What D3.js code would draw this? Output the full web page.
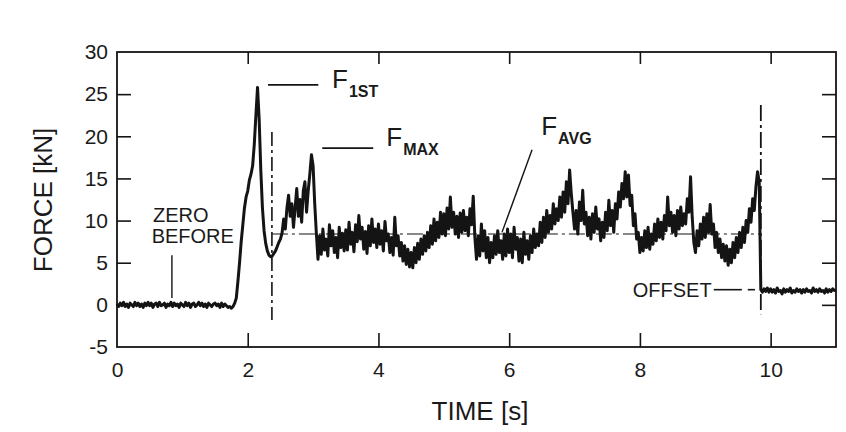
<!DOCTYPE html>
<html>
<head>
<meta charset="utf-8">
<script src="https://cdn.jsdelivr.net/npm/d3@7"></script>
<style>
  html, body { margin: 0; padding: 0; background: #ffffff; }
  svg { display: block; }
  text { font-family: "Liberation Sans", Arial, Helvetica, sans-serif; fill: #1a1a1a; }
</style>
</head>
<body>
<svg id="chart" width="846" height="432"></svg>
<script>
// ---- data ----
const sampleStart = 0;       // s
const sampleStep = 0.025;    // s
// force [kN] sampled every 0.025 s from t = 0 s
const force = [
  0.1,-0.2,0.2,-0.1,0.3,-0.2,0.1,-0.3,0.2,0.0,-0.2,0.3,-0.1,0.2,-0.2,0.1,-0.3,0.2,-0.1,0.3,
  -0.1,0.2,-0.3,0.1,0.2,-0.2,0.3,-0.1,0.0,0.2,-0.3,0.1,-0.1,0.3,-0.2,0.2,-0.1,0.1,-0.3,0.2,
  0.0,-0.2,0.3,-0.1,0.2,-0.3,0.1,0.2,-0.2,0.0,0.3,-0.1,0.2,-0.2,0.1,-0.3,0.2,0.0,-0.2,0.1,
  0.2,-0.1,0.1,-0.3,0.2,-0.2,0.1,-0.1,-0.3,-0.2,-0.4,-0.2,0.2,0.8,2.8,5.0,7.5,9.5,11.5,12.8,
  13.5,14.8,15.5,16.5,19.0,22.5,25.8,22.0,16.0,11.5,8.8,7.3,6.4,5.9,5.7,5.8,6.1,6.4,6.9,7.4,
  7.8,8.5,10.2,9.0,11.5,13.0,10.5,12.0,9.2,11.5,13.8,10.5,12.5,9.8,13.5,14.6,11.0,13.5,15.5,17.8,
  16.5,12.0,8.5,5.4,8.2,6.0,9.0,6.5,7.8,5.8,9.5,7.0,8.8,6.2,8.0,5.6,9.2,6.8,8.5,6.4,
  8.9,6.5,9.8,7.2,8.6,6.3,9.5,7.5,10.6,7.8,9.2,6.6,8.7,6.1,9.4,7.0,10.2,7.4,9.0,6.8,
  9.6,7.2,8.8,6.4,9.9,7.6,8.4,6.2,8.0,5.9,10.4,7.0,8.2,5.8,7.4,5.2,7.0,4.8,6.6,4.5,
  6.2,4.4,6.8,5.0,7.3,5.4,7.8,6.0,8.2,6.4,8.6,6.8,9.4,7.2,10.2,7.6,9.8,8.0,11.0,8.4,
  10.8,8.2,11.5,9.0,12.8,9.2,11.0,8.4,10.5,8.0,10.9,8.6,11.2,8.8,10.4,8.2,11.4,9.5,12.9,8.0,
  5.4,8.2,5.8,9.6,6.4,8.8,5.6,8.0,5.0,7.4,5.6,8.2,6.0,8.8,6.2,7.6,5.4,8.4,5.8,9.0,
  6.2,8.4,5.6,9.2,6.6,8.0,5.2,7.8,5.0,8.6,6.0,7.6,5.4,8.2,6.2,9.0,6.8,8.4,7.0,9.8,
  7.4,10.4,8.0,11.2,8.6,10.6,9.0,12.0,9.6,11.4,10.0,12.8,10.4,13.4,11.0,14.6,12.0,16.0,13.2,11.0,
  9.0,11.2,8.4,12.2,10.0,13.6,9.6,11.0,8.2,10.4,7.8,10.8,8.6,11.6,9.0,10.2,7.6,9.8,8.0,11.0,
  8.8,12.4,9.4,11.2,8.6,12.0,10.2,13.4,11.6,14.4,12.6,15.8,12.8,15.4,11.8,13.0,9.4,10.8,7.8,8.6,
  6.2,8.0,6.4,8.8,6.8,9.2,6.6,8.4,7.2,9.6,7.6,10.2,8.0,9.8,7.8,10.6,8.8,12.8,9.4,11.0,
  8.6,10.6,8.2,11.2,9.0,11.6,9.4,10.8,9.6,12.6,11.0,15.2,10.4,7.4,6.2,8.8,7.0,9.6,7.8,10.4,
  8.0,10.8,8.6,11.9,8.4,9.6,6.8,8.6,6.2,7.8,5.6,7.2,5.2,7.0,4.7,6.6,5.0,7.4,5.6,8.0,
  6.2,8.6,6.8,9.2,7.4,10.0,8.6,11.4,9.8,12.6,11.2,14.0,15.8,14.6,1.8,1.5,1.9,1.6,2.0,1.5,
  1.9,1.5,1.8,1.4,2.0,1.6,1.7,1.3,1.9,1.5,1.8,1.6,2.0,1.4,1.7,1.5,1.9,1.6,1.8,1.4,
  1.8,1.5,1.9,1.6,1.7,1.4,2.0,1.6,1.8,1.5,1.9,1.6,1.7,1.4,1.9,1.5,1.8,1.6,1.9,1.7,
  1.7
];
const xTicks = [0, 2, 4, 6, 8, 10];
const yTicks = [-5, 0, 5, 10, 15, 20, 25, 30];
const xDomain = [0, 11];
const yDomain = [-5, 30];
const avgForce = 8.4;      // kN
const tStart = 2.37;       // s, start of averaging window
const tEnd = 9.85;         // s, end of averaging window
const xTitle = "TIME [s]";
const yTitle = "FORCE [kN]";

// ---- drawing ----
const svg = d3.select("#chart");
const mLeft = 117, mRight = 836, mTop = 52, mBottom = 347;
const x = d3.scaleLinear().domain(xDomain).range([mLeft, mRight]);
const y = d3.scaleLinear().domain(yDomain).range([mBottom, mTop]);
const ink = "#141414";
const fmt = d => String(d);   // plain hyphen-minus, as in the original

// frame
svg.append("rect")
  .attr("x", mLeft).attr("y", mTop)
  .attr("width", mRight - mLeft).attr("height", mBottom - mTop)
  .attr("fill", "none").attr("stroke", ink).attr("stroke-width", 1.8);

// axes
const gL = svg.append("g").attr("transform", `translate(${mLeft},0)`)
  .call(d3.axisLeft(y).tickValues(yTicks).tickFormat(fmt).tickSize(-14).tickPadding(9));
const gB = svg.append("g").attr("transform", `translate(0,${mBottom})`)
  .call(d3.axisBottom(x).tickValues(xTicks).tickFormat(fmt).tickSize(-14).tickPadding(15));
const gT = svg.append("g").attr("transform", `translate(0,${mTop})`)
  .call(d3.axisTop(x).tickValues(xTicks.slice(1)).tickSize(-12).tickFormat(""));
const gR = svg.append("g").attr("transform", `translate(${mRight},0)`)
  .call(d3.axisRight(y).tickValues(yTicks.slice(1, -1)).tickSize(-14).tickFormat(""));
[gL, gB, gT, gR].forEach(g => {
  g.select(".domain").remove();
  g.selectAll(".tick line").attr("stroke", ink).attr("stroke-width", 1.6);
  g.selectAll("text").attr("font-size", 21).attr("fill", "#1a1a1a")
    .attr("font-family", '"Liberation Sans", Arial, sans-serif');
});
gB.selectAll(".tick").filter(d => d === 0).select("line").remove();
gL.selectAll(".tick").filter(d => d === -5 || d === 30).select("line").remove();

// axis titles
svg.append("text").attr("x", 480).attr("y", 420).attr("text-anchor", "middle")
  .attr("font-size", 26).text(xTitle);
svg.append("text").attr("transform", `translate(52,200) rotate(-90)`)
  .attr("text-anchor", "middle").attr("font-size", 26).text(yTitle);

// averaging window markers (dash-dot)
svg.append("line")
  .attr("x1", x(tStart)).attr("x2", x(tEnd)).attr("y1", y(avgForce)).attr("y2", y(avgForce))
  .attr("stroke", ink).attr("stroke-width", 1.1).attr("stroke-dasharray", "16,4,3,4");
svg.append("line")
  .attr("x1", x(tStart)).attr("x2", x(tStart)).attr("y1", y(20.5)).attr("y2", y(-1.8))
  .attr("stroke", ink).attr("stroke-width", 1.6).attr("stroke-dasharray", "14,4,3,4");
svg.append("line")
  .attr("x1", x(tEnd)).attr("x2", x(tEnd)).attr("y1", y(23.7)).attr("y2", y(-1.1))
  .attr("stroke", ink).attr("stroke-width", 1.8).attr("stroke-dasharray", "16,4,3,4");

// force trace
const line = d3.line()
  .x((d, i) => x(sampleStart + i * sampleStep))
  .y(d => y(d));
svg.append("path").datum(force)
  .attr("d", line).attr("fill", "none")
  .attr("stroke", ink).attr("stroke-width", 3.0).attr("stroke-linejoin", "round");

// annotations
function leader(t1, v1, t2, v2, w) {
  svg.append("line").attr("x1", x(t1)).attr("y1", y(v1)).attr("x2", x(t2)).attr("y2", y(v2))
    .attr("stroke", ink).attr("stroke-width", w || 1.4);
}
function fLabel(t, v, sub) {
  const tx = svg.append("text").attr("x", x(t)).attr("y", y(v)).attr("font-size", 26);
  tx.append("tspan").text("F");
  tx.append("tspan").attr("dy", 9).attr("dx", 1).attr("font-size", 16).attr("font-weight", "bold").text(sub);
}
leader(2.31, 26.1, 3.08, 26.1, 1.6);
fLabel(3.29, 25.7, "1ST");
leader(3.14, 18.6, 3.92, 18.6, 1.6);
fLabel(4.12, 18.8, "MAX");
leader(6.35, 18.4, 5.89, 8.6, 1.4);
fLabel(6.49, 20.15, "AVG");

svg.append("text").attr("x", x(0.55)).attr("y", y(9.8)).attr("font-size", 20).text("ZERO");
svg.append("text").attr("x", x(0.53)).attr("y", y(7.3)).attr("font-size", 20).text("BEFORE");
leader(0.84, 5.9, 0.84, 0.8, 1.4);

svg.append("text").attr("x", x(7.89)).attr("y", y(0.93)).attr("font-size", 20).text("OFFSET");
leader(9.13, 1.8, 9.56, 1.8, 1.6);
leader(9.65, 1.8, 9.76, 1.8, 1.6);
</script>
</body>
</html>
